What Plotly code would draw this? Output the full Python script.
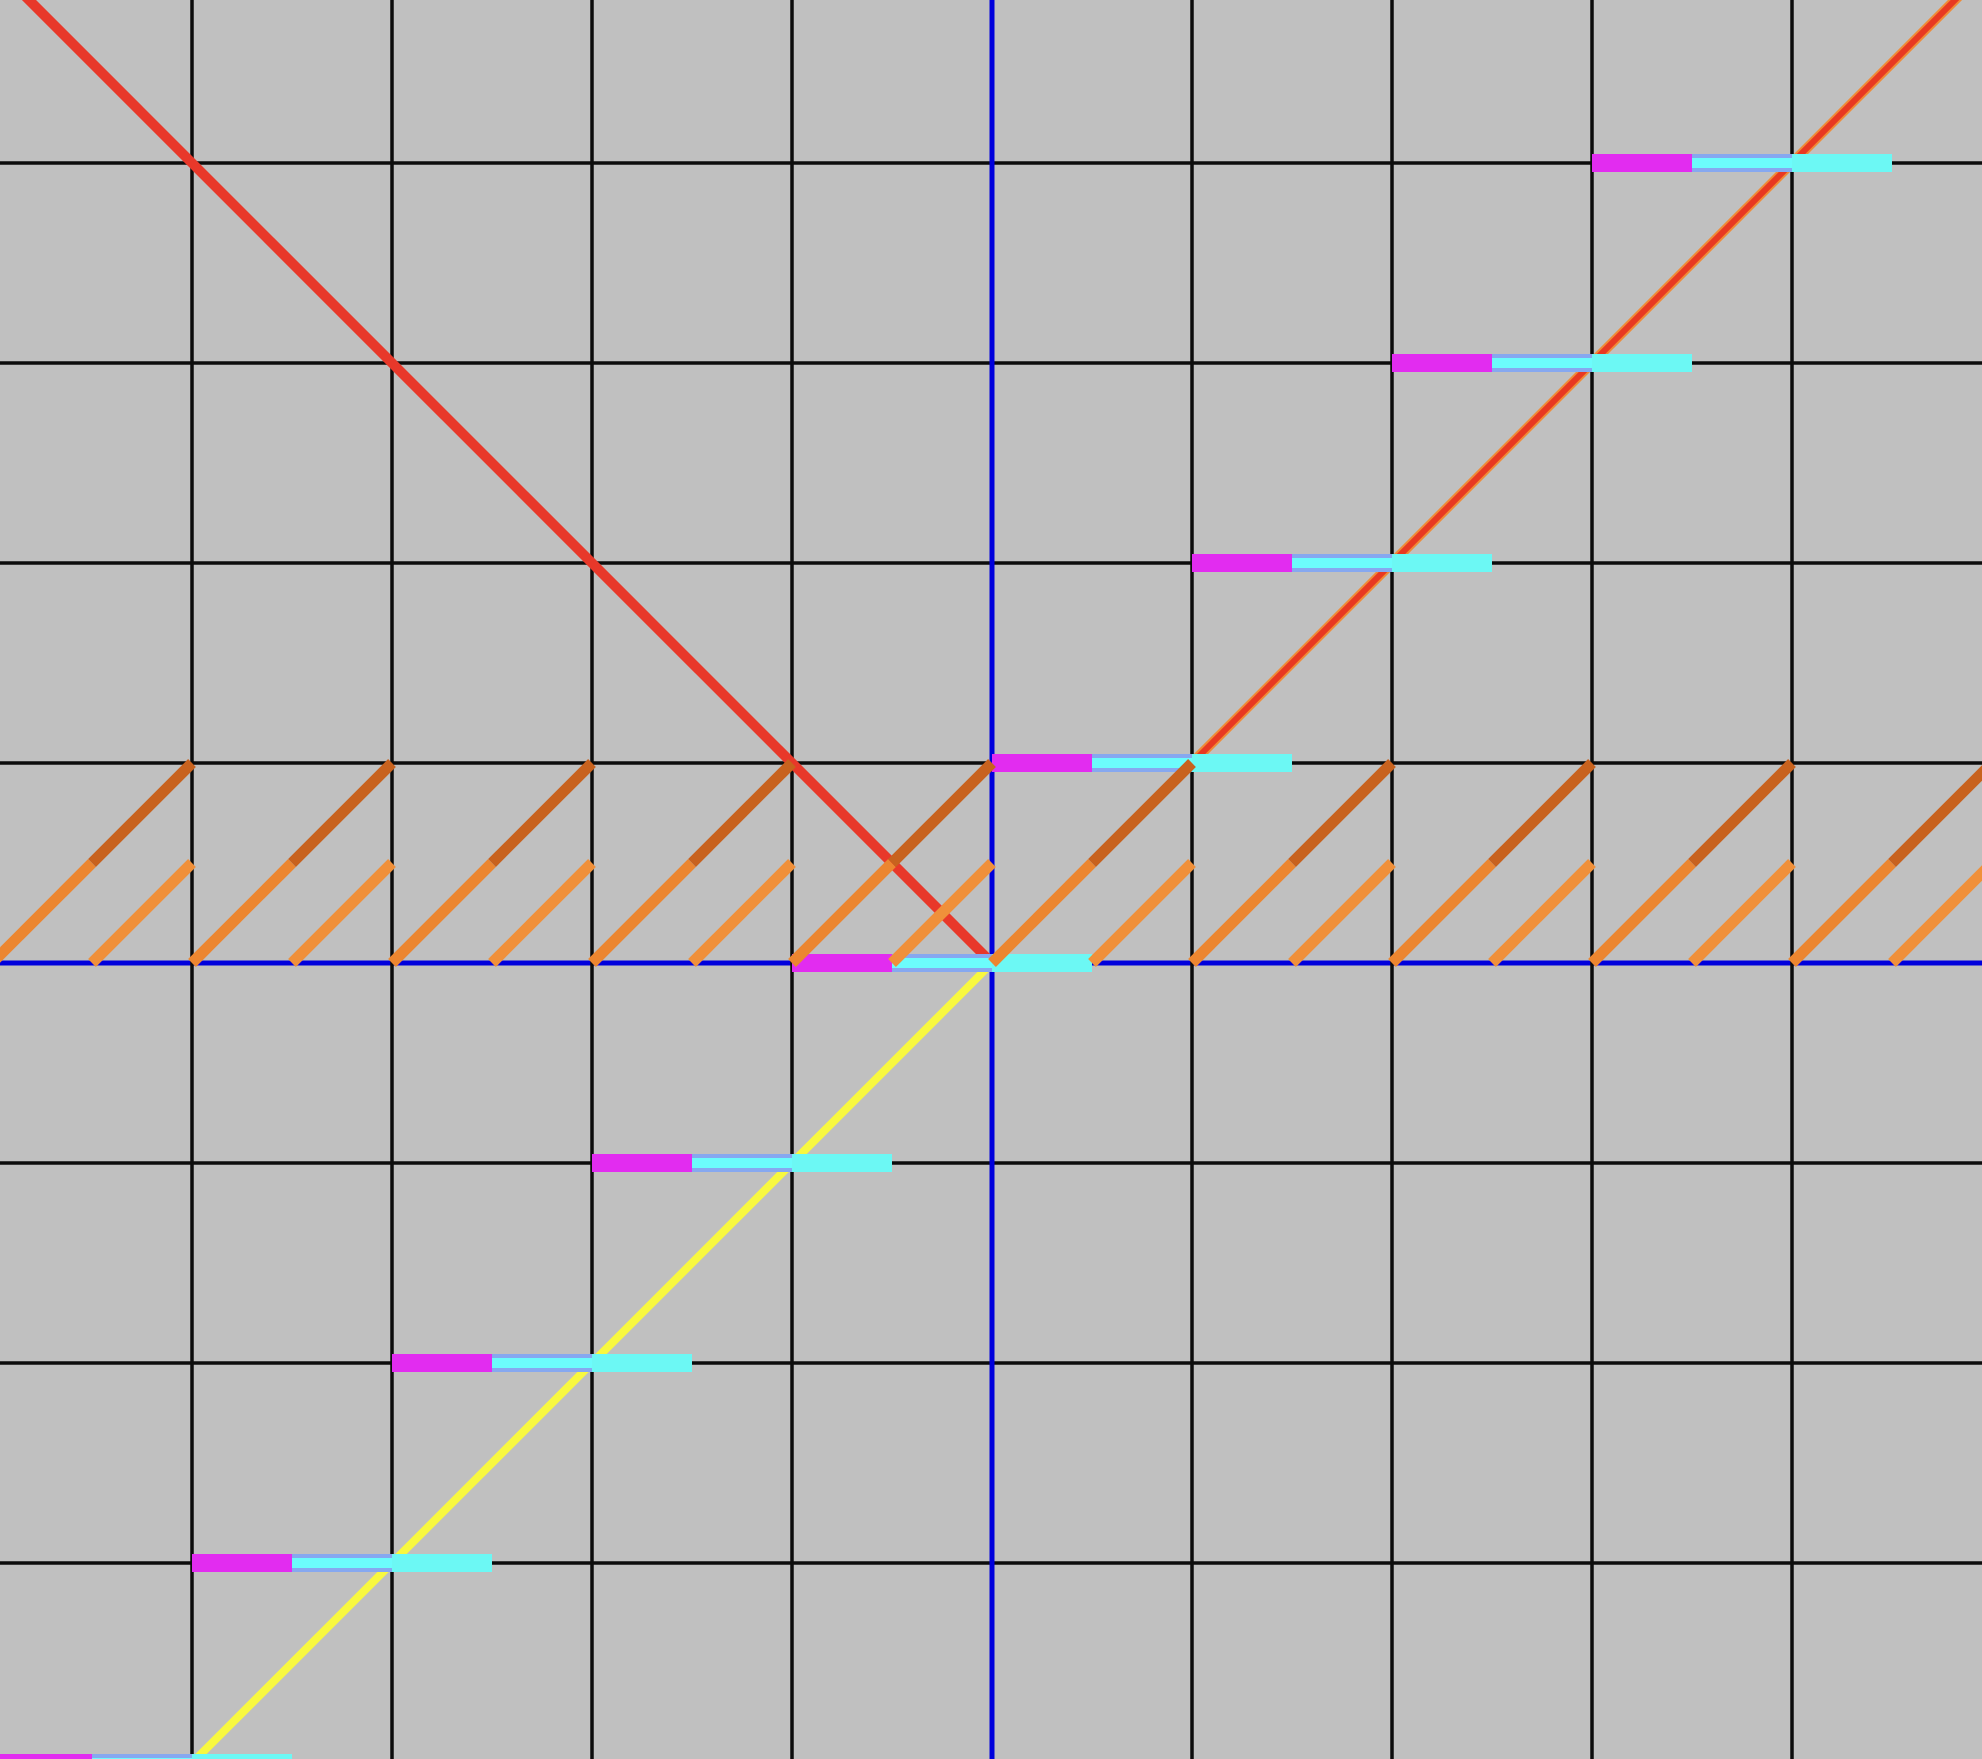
import plotly.graph_objects as go

# ---- data ----
grid_x = [-4, -3, -2, -1, 1, 2, 3, 4]
grid_y = [-3, -2, -1, 1, 2, 3, 4]
step_levels = [-4, -3, -2, -1, 0, 1, 2, 3, 4]
saw_starts = [-5, -4, -3, -2, -1, 0, 1, 2, 3, 4]
neg_diag_x = [-5, 0]          # y = -x for x <= 0
neg_diag_y = [5, 0]
yellow_x = [-5, 0]            # y = x for x <= 0
yellow_y = [-5, 0]
pos_diag_x = [1, 5]           # y = x for x >= 1
pos_diag_y = [1, 5]

X_RANGE = [-4.96, 4.95]
Y_RANGE = [-3.98, 4.815]

fig = go.Figure()

def add(xs, ys, color, width):
    fig.add_trace(go.Scatter(x=xs, y=ys, mode="lines", hoverinfo="skip",
                             line=dict(color=color, width=width), showlegend=False))

def segs(pairs):
    xs, ys = [], []
    for (x0, y0, x1, y1) in pairs:
        xs += [x0, x1, None]
        ys += [y0, y1, None]
    return xs, ys

# blue horizontal axis
add([-6, 6], [0, 0], "#0000dc", 5)
# black grid
xs, ys = segs([(g, -6, g, 6) for g in grid_x])
add(xs, ys, "#0c0c0c", 3.5)
xs, ys = segs([(-6, g, 6, g) for g in grid_y])
add(xs, ys, "#0c0c0c", 3.5)
# blue vertical axis
add([0, 0], [-6, 6], "#0000dc", 5)

# diagonal lines
add(neg_diag_x, neg_diag_y, "#e8382a", 10)
add(yellow_x, yellow_y, "#f8f840", 8)
add(pos_diag_x, pos_diag_y, "#f08a36", 10)
add(pos_diag_x, pos_diag_y, "#e83822", 6)

# horizontal step segments
xs, ys = segs([(n - 1, n, n - 0.5, n) for n in step_levels])
add(xs, ys, "#e22cf0", 18)
xs, ys = segs([(n - 0.5, n, n, n) for n in step_levels])
add(xs, ys, "#86a8f0", 18)
add(xs, ys, "#6cfcfc", 10)
xs, ys = segs([(n, n, n + 0.5, n) for n in step_levels])
add(xs, ys, "#6cf8f4", 18)

# sawtooth hatch in band [0, 1]
xs, ys = segs([(k, 0, k + 0.5, 0.5) for k in saw_starts])
add(xs, ys, "#ec8630", 11)
xs, ys = segs([(k + 0.5, 0.5, k + 1, 1) for k in saw_starts])
add(xs, ys, "#c8621e", 11)
xs, ys = segs([(k + 0.5, 0, k + 1, 0.5) for k in saw_starts])
add(xs, ys, "#f0903a", 11)

fig.update_layout(
    width=1982, height=1759,
    margin=dict(l=0, r=0, t=0, b=0),
    paper_bgcolor="#c0c0c0", plot_bgcolor="#c0c0c0",
    xaxis=dict(range=X_RANGE, showgrid=False, zeroline=False, showticklabels=False,
               ticks="", fixedrange=True),
    yaxis=dict(range=Y_RANGE, showgrid=False, zeroline=False, showticklabels=False,
               ticks="", fixedrange=True),
    showlegend=False,
)

fig.write_html("out.html", config={"displayModeBar": False},
               post_script="document.body.style.margin='0';document.body.style.background='#c0c0c0';")
